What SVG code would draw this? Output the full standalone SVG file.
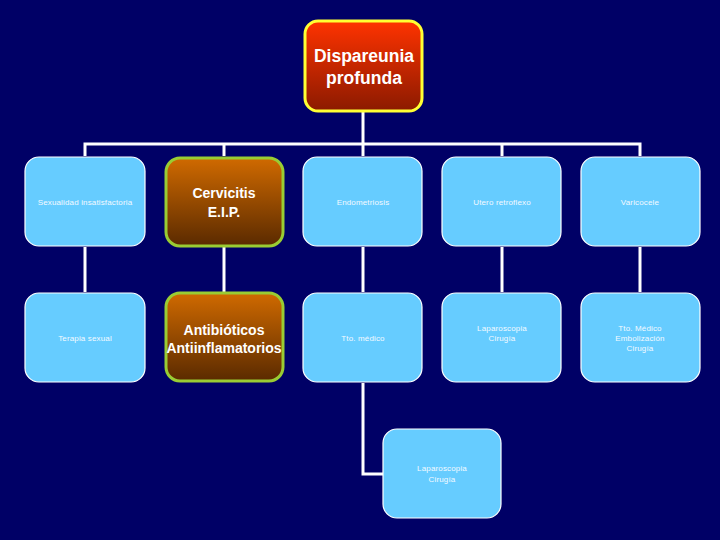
<svg xmlns="http://www.w3.org/2000/svg" width="720" height="540" viewBox="0 0 720 540">
<style>
.bg{fill:#000066}
.lb{fill:#66CCFF;stroke:#FFFFFF;stroke-width:1.2}
.br{fill:url(#gBrown);stroke:#99CC33;stroke-width:3}
.rt{fill:url(#gRoot);stroke:#FFFF33;stroke-width:3}
.con{fill:none;stroke:#FFFFFF;stroke-width:3}
.sm{font-family:"Liberation Sans",Arial,sans-serif;font-size:8px;fill:#F4FAFF;text-anchor:middle;letter-spacing:0.15px}
.bd{font-family:"Liberation Sans",Arial,sans-serif;font-size:14px;font-weight:bold;fill:#FFFFFF;text-anchor:middle}
.rtx{font-family:"Liberation Sans",Arial,sans-serif;font-size:17.5px;font-weight:bold;fill:#FFFFFF;text-anchor:middle}
</style>
<defs>
<linearGradient id="gRoot" x1="0" y1="0" x2="0" y2="1">
<stop offset="0" stop-color="#FF3300"/>
<stop offset="1" stop-color="#8B1A00"/>
</linearGradient>
<linearGradient id="gBrown" x1="0" y1="0" x2="0" y2="1">
<stop offset="0" stop-color="#D06A00"/>
<stop offset="1" stop-color="#5A2A00"/>
</linearGradient>
</defs>
<rect class="bg" x="0" y="0" width="720" height="540"/>
<g id="connectors">
<path class="con" d="M363,112 V144"/>
<path class="con" d="M85,156 V144 H640 V156"/>
<path class="con" d="M224,144 V156"/>
<path class="con" d="M363,144 V156"/>
<path class="con" d="M502,144 V156"/>
<path class="con" d="M85,247 V292"/>
<path class="con" d="M224,247 V292"/>
<path class="con" d="M363,247 V292"/>
<path class="con" d="M502,247 V292"/>
<path class="con" d="M640,247 V292"/>
<path class="con" d="M363,383 V474 H383"/>
</g>
<g id="root">
<rect class="rt" x="305" y="21" width="117" height="90" rx="13"/>
<text class="rtx" x="364" y="62">Dispareunia</text>
<text class="rtx" x="364" y="84">profunda</text>
</g>
<g id="n-sexualidad">
<rect class="lb" x="25" y="157" width="120" height="89" rx="14"/>
<text class="sm" x="85" y="205">Sexualidad insatisfactoria</text>
</g>
<g id="n-cervicitis">
<rect class="br" x="166" y="158" width="117" height="88" rx="14"/>
<text class="bd" x="224" y="198">Cervicitis</text>
<text class="bd" x="224" y="217">E.I.P.</text>
</g>
<g id="n-endometriosis">
<rect class="lb" x="303" y="157" width="119" height="89" rx="14"/>
<text class="sm" x="363" y="205">Endometriosis</text>
</g>
<g id="n-utero">
<rect class="lb" x="442" y="157" width="119" height="89" rx="14"/>
<text class="sm" x="502" y="205">Utero retroflexo</text>
</g>
<g id="n-varicocele">
<rect class="lb" x="581" y="157" width="119" height="89" rx="14"/>
<text class="sm" x="640" y="205">Varicocele</text>
</g>
<g id="n-terapia">
<rect class="lb" x="25" y="293" width="120" height="89" rx="14"/>
<text class="sm" x="85" y="341">Terapia sexual</text>
</g>
<g id="n-antibioticos">
<rect class="br" x="166" y="293" width="117" height="88" rx="14"/>
<text class="bd" x="224" y="335">Antibióticos</text>
<text class="bd" x="224" y="353">Antiinflamatorios</text>
</g>
<g id="n-tto-medico">
<rect class="lb" x="303" y="293" width="119" height="89" rx="14"/>
<text class="sm" x="363" y="341">Tto. médico</text>
</g>
<g id="n-laparoscopia1">
<rect class="lb" x="442" y="293" width="119" height="89" rx="14"/>
<text class="sm" x="502" y="331">Laparoscopia</text>
<text class="sm" x="502" y="341">Cirugía</text>
</g>
<g id="n-tto-medico2">
<rect class="lb" x="581" y="293" width="119" height="89" rx="14"/>
<text class="sm" x="640" y="331">Tto. Médico</text>
<text class="sm" x="640" y="341">Embolización</text>
<text class="sm" x="640" y="351">Cirugía</text>
</g>
<g id="n-laparoscopia2">
<rect class="lb" x="383" y="429" width="118" height="89" rx="14"/>
<text class="sm" x="442" y="471">Laparoscopia</text>
<text class="sm" x="442" y="482">Cirugía</text>
</g>
</svg>
